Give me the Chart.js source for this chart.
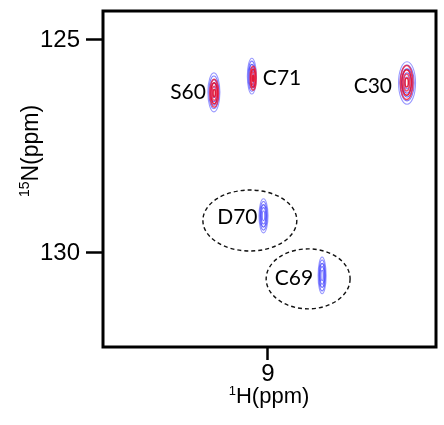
<!DOCTYPE html>
<html>
<head>
<meta charset="utf-8">
<script src="https://cdn.jsdelivr.net/npm/chart.js@4.4.1/dist/chart.umd.min.js"></script>
<style>
  html, body { margin: 0; padding: 0; background: #fff; }
  #wrap { width: 444px; height: 425px; }
</style>
</head>
<body>
<div id="wrap"><canvas id="c" width="444" height="425"></canvas></div>
<script>
// ---- data ----
const residues = ['S60', 'C71', 'C30', 'D70', 'C69'];
const shiftH = [9.162, 9.048, 8.582, 9.013, 8.837];      // 1H (ppm), blue spectrum
const shiftN = [126.23, 125.85, 126.01, 129.13, 130.53]; // 15N (ppm), blue spectrum
const halfWidthH = [0.018, 0.0135, 0.0255, 0.0135, 0.012];
const halfWidthN = [0.458, 0.42, 0.50, 0.40, 0.43];

const redResidues = ['S60', 'C71', 'C30'];
const redShiftH = [9.161, 9.044, 8.583];
const redShiftN = [126.25, 125.90, 126.00];
const redHalfWidthH = [0.013, 0.009, 0.019];
const redHalfWidthN = [0.33, 0.28, 0.40];

const circledResidues = ['D70', 'C69'];
const circleH = [9.054, 8.879];
const circleN = [129.24, 130.61];
const circleRadiusH = [0.141, 0.126];
const circleRadiusN = [0.716, 0.704];

const xTicks = [9];
const yTicks = [125, 130];
const xRange = [8.495, 9.495];
const yRange = [124.32, 132.21];

const xTitle = { sup: '1', main: 'H(ppm)' };
const yTitle = { sup: '15', main: 'N(ppm)' };

// ---- build datasets ----
const bluePoints = residues.map((r, i) => ({ x: shiftH[i], y: shiftN[i], label: r, hw: halfWidthH[i], hn: halfWidthN[i] }));
const redPoints = redResidues.map((r, i) => ({ x: redShiftH[i], y: redShiftN[i], label: r, hw: redHalfWidthH[i], hn: redHalfWidthN[i] }));

const labelStyle = {
  S60: { dx: -8, dy: 0, align: 'right' },
  C71: { dx: 11, dy: 2, align: 'left' },
  C30: { dx: -15, dy: 3, align: 'right' },
  D70: { dx: -6, dy: 1, align: 'right' },
  C69: { dx: -9, dy: 3, align: 'right' }
};

function ellipse(ctx, x, y, rx, ry) {
  ctx.beginPath();
  ctx.ellipse(x, y, Math.max(rx, 0.5), Math.max(ry, 0.5), 0, 0, Math.PI * 2);
  ctx.stroke();
}

const nmrPlugin = {
  id: 'nmr',
  afterDatasetsDraw(chart) {
    const ctx = chart.ctx, xs = chart.scales.x, ys = chart.scales.y, a = chart.chartArea;
    ctx.save();
    ctx.beginPath();
    ctx.rect(a.left, a.top, a.right - a.left, a.bottom - a.top);
    ctx.clip();
    chart.data.datasets.forEach((ds, di) => {
      const meta = chart.getDatasetMeta(di);
      const levels = ds.contourLevels;
      meta.data.forEach((el, i) => {
        const p = ds.data[i];
        const rx = Math.abs(xs.getPixelForValue(p.x + p.hw) - xs.getPixelForValue(p.x));
        const ry = Math.abs(ys.getPixelForValue(p.y + p.hn) - ys.getPixelForValue(p.y));
        levels.forEach((lv, k) => {
          ctx.strokeStyle = ds.contourColors[k];
          ctx.lineWidth = ds.contourWidth;
          ellipse(ctx, el.x, el.y, rx * lv, ry * lv);
        });
      });
    });
    // dashed circles around residues of interest
    ctx.strokeStyle = '#111';
    ctx.lineWidth = 1.4;
    ctx.setLineDash([4, 3]);
    circledResidues.forEach((r, i) => {
      const cx = xs.getPixelForValue(circleH[i]);
      const cy = ys.getPixelForValue(circleN[i]);
      const rx = Math.abs(xs.getPixelForValue(circleH[i] + circleRadiusH[i]) - cx);
      const ry = Math.abs(ys.getPixelForValue(circleN[i] + circleRadiusN[i]) - cy);
      ellipse(ctx, cx, cy, rx, ry);
    });
    ctx.setLineDash([]);
    // residue labels
    const blueMeta = chart.getDatasetMeta(0);
    ctx.fillStyle = '#000';
    ctx.font = '21px Lato, "Open Sans", sans-serif';
    ctx.textBaseline = 'middle';
    blueMeta.data.forEach((el, i) => {
      const s = labelStyle[residues[i]];
      ctx.textAlign = s.align;
      ctx.fillText(residues[i], el.x + s.dx, el.y + s.dy);
    });
    ctx.restore();
  },
  afterDraw(chart) {
    const ctx = chart.ctx, a = chart.chartArea;
    ctx.save();
    ctx.strokeStyle = '#000';
    ctx.lineWidth = 3;
    ctx.strokeRect(a.left, a.top, a.right - a.left, a.bottom - a.top);
    // axis titles with superscripts
    ctx.fillStyle = '#000';
    ctx.textBaseline = 'alphabetic';
    ctx.textAlign = 'left';
    // x title
    const xMainFont = '22px "Liberation Sans", Arial, sans-serif';
    const xSupFont = '13px "Liberation Sans", Arial, sans-serif';
    ctx.font = xSupFont; const xsw = ctx.measureText(xTitle.sup).width;
    ctx.font = xMainFont; const xmw = ctx.measureText(xTitle.main).width;
    const xcx = 269;
    const xStart = xcx - (xsw + xmw) / 2;
    const xBase = 403;
    ctx.font = xSupFont; ctx.fillText(xTitle.sup, xStart, xBase - 8);
    ctx.font = xMainFont; ctx.fillText(xTitle.main, xStart + xsw, xBase);
    // y title (rotated)
    const yMainFont = '23px "Liberation Sans", Arial, sans-serif';
    const ySupFont = '14px "Liberation Sans", Arial, sans-serif';
    ctx.font = ySupFont; const ysw = ctx.measureText(yTitle.sup).width;
    ctx.font = yMainFont; const ymw = ctx.measureText(yTitle.main).width;
    ctx.translate(38, 151);
    ctx.rotate(-Math.PI / 2);
    const yStart = -(ysw + ymw) / 2;
    ctx.font = ySupFont; ctx.fillText(yTitle.sup, yStart, -9);
    ctx.font = yMainFont; ctx.fillText(yTitle.main, yStart + ysw, 0);
    ctx.restore();
  }
};

new Chart(document.getElementById('c'), {
  type: 'scatter',
  data: {
    datasets: [
      {
        label: 'blue spectrum',
        data: bluePoints,
        pointRadius: 0,
        pointHoverRadius: 0,
        contourLevels: [1, 0.84, 0.66, 0.48, 0.28],
        contourColors: ['rgba(110,110,255,0.7)', 'rgba(90,90,255,0.8)', 'rgba(70,70,250,0.85)', 'rgba(80,80,255,0.85)', 'rgba(100,100,255,0.85)'],
        contourWidth: 1.1
      },
      {
        label: 'red spectrum',
        data: redPoints,
        pointRadius: 0,
        pointHoverRadius: 0,
        contourLevels: [1, 0.75, 0.5, 0.26],
        contourColors: ['rgba(235,40,70,0.85)', 'rgba(230,20,50,0.95)', 'rgba(240,60,90,0.9)', 'rgba(225,20,50,0.95)'],
        contourWidth: 1.5
      }
    ]
  },
  options: {
    responsive: false,
    animation: false,
    events: [],
    layout: { padding: { top: 11, right: 8, left: 0, bottom: 0 } },
    plugins: { legend: { display: false }, tooltip: { enabled: false } },
    scales: {
      x: {
        type: 'linear',
        reverse: true,
        min: xRange[0],
        max: xRange[1],
        afterBuildTicks: s => { s.ticks = xTicks.map(v => ({ value: v })); },
        afterFit: s => { s.height = 78; s.paddingLeft = 0; s.paddingRight = 0; },
        grid: { display: true, drawOnChartArea: false, drawTicks: true, tickLength: 13, tickWidth: 2.5, tickColor: '#000' },
        border: { display: false },
        ticks: { color: '#000', font: { size: 24, family: '"Liberation Sans", Arial, sans-serif' }, padding: 0, maxRotation: 0 }
      },
      y: {
        type: 'linear',
        reverse: true,
        min: yRange[0],
        max: yRange[1],
        afterBuildTicks: s => { s.ticks = yTicks.map(v => ({ value: v })); },
        afterFit: s => { s.width = 103; s.paddingTop = 0; s.paddingBottom = 0; },
        grid: { display: true, drawOnChartArea: false, drawTicks: true, tickLength: 17, tickWidth: 2.5, tickColor: '#000' },
        border: { display: false },
        ticks: { color: '#000', font: { size: 24, family: '"Liberation Sans", Arial, sans-serif' }, padding: 6 }
      }
    }
  },
  plugins: [nmrPlugin]
});
</script>
</body>
</html>
